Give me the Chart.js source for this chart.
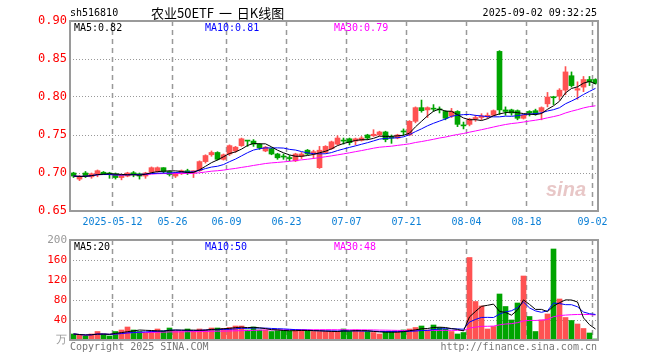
<!DOCTYPE html>
<html>
<head>
<meta charset="utf-8">
<script src="https://cdn.jsdelivr.net/npm/chart.js@4.4.1/dist/chart.umd.min.js"></script>
<style>
body { margin: 0; background: #fff; }
#wrap { position: relative; width: 660px; height: 360px; font-family: "DejaVu Sans Mono", monospace; font-size: 10px; }
canvas { position: absolute; left: 0; top: 0; }
.t { position: absolute; white-space: nowrap; line-height: 12px; }
</style>
</head>
<body>
<div id="wrap">
  <canvas id="kline" width="660" height="360"></canvas>
  <canvas id="volume" width="660" height="360"></canvas>
  <div class="t" style="left:70px;top:7px;color:#000">sh516810</div>
  <div class="t" style="left:151px;top:5px;color:#000;font-family:'Noto Sans CJK SC';font-size:13px;line-height:16px;word-spacing:2px">农业50ETF 一 日K线图</div>
  <div class="t" style="right:63px;top:7px;color:#000">2025-09-02 09:32:25</div>
  <div class="t" style="left:74px;top:22px;color:#000">MA5:0.82</div>
  <div class="t" style="left:205px;top:22px;color:#00f">MA10:0.81</div>
  <div class="t" style="left:334px;top:22px;color:#f0f">MA30:0.79</div>
  <div class="t" style="left:74px;top:241px;color:#000">MA5:20</div>
  <div class="t" style="left:205px;top:241px;color:#00f">MA10:50</div>
  <div class="t" style="left:334px;top:241px;color:#f0f">MA30:48</div>
  <div class="t" style="left:70px;top:341px;color:#777">Copyright 2025 SINA.COM</div>
  <div class="t" style="right:63px;top:341px;color:#777">http://finance.sina.com.cn</div>
  <div class="t" style="left:546px;top:178px;color:rgba(205,130,130,0.45);font-family:'Liberation Sans';font-style:italic;font-weight:bold;font-size:20px;line-height:22px">sina</div>
</div>
<script>
// trading days shown, 2025-04-28 .. 2025-09-02
var dates = ['04-28','04-29','04-30','05-06','05-07','05-08','05-09',
  '05-12','05-13','05-14','05-15','05-16','05-19','05-20','05-21','05-22','05-23',
  '05-26','05-27','05-28','05-29','05-30','06-03','06-04','06-05','06-06',
  '06-09','06-10','06-11','06-12','06-13','06-16','06-17','06-18','06-19','06-20',
  '06-23','06-24','06-25','06-26','06-27','06-30','07-01','07-02','07-03','07-04',
  '07-07','07-08','07-09','07-10','07-11','07-14','07-15','07-16','07-17','07-18',
  '07-21','07-22','07-23','07-24','07-25','07-28','07-29','07-30','07-31','08-01',
  '08-04','08-05','08-06','08-07','08-08','08-11','08-12','08-13','08-14','08-15',
  '08-18','08-19','08-20','08-21','08-22','08-25','08-26','08-27','08-28','08-29',
  '09-01','09-02'];

var open = [0.700,0.692,0.700,0.695,0.699,0.701,0.700,0.699,0.694,0.696,
  0.700,0.699,0.696,0.701,0.702,0.707,0.702,0.696,0.699,0.703,
  0.700,0.703,0.715,0.724,0.727,0.718,0.725,0.729,0.736,0.743,
  0.742,0.738,0.729,0.732,0.725,0.722,0.720,0.716,0.722,0.730,
  0.725,0.707,0.727,0.732,0.738,0.743,0.745,0.742,0.743,0.750,
  0.749,0.750,0.754,0.748,0.746,0.755,0.750,0.768,0.786,0.783,
  0.785,0.784,0.781,0.775,0.781,0.763,0.764,0.771,0.773,0.774,
  0.776,0.860,0.783,0.783,0.782,0.772,0.781,0.782,0.781,0.791,
  0.800,0.801,0.809,0.828,0.809,0.813,0.823,0.823];
var high = [0.701,0.697,0.702,0.700,0.704,0.702,0.701,0.700,0.698,0.701,
  0.702,0.700,0.701,0.708,0.708,0.707,0.703,0.701,0.704,0.705,
  0.703,0.716,0.724,0.729,0.728,0.725,0.737,0.735,0.746,0.743,
  0.744,0.739,0.735,0.733,0.726,0.725,0.723,0.726,0.727,0.731,
  0.730,0.735,0.736,0.742,0.749,0.746,0.746,0.746,0.748,0.751,
  0.757,0.755,0.755,0.750,0.751,0.758,0.769,0.787,0.796,0.787,
  0.790,0.787,0.782,0.785,0.782,0.767,0.772,0.776,0.778,0.779,
  0.783,0.861,0.787,0.784,0.783,0.777,0.782,0.784,0.787,0.806,
  0.801,0.811,0.840,0.833,0.820,0.827,0.827,0.824];
var low = [0.694,0.690,0.694,0.693,0.695,0.698,0.693,0.692,0.691,0.695,
  0.695,0.692,0.693,0.700,0.701,0.700,0.696,0.694,0.698,0.698,
  0.694,0.702,0.713,0.722,0.717,0.717,0.723,0.727,0.735,0.735,
  0.735,0.731,0.728,0.724,0.718,0.718,0.716,0.715,0.719,0.724,
  0.719,0.706,0.726,0.731,0.737,0.738,0.737,0.737,0.742,0.744,
  0.748,0.749,0.741,0.739,0.745,0.750,0.749,0.766,0.780,0.773,
  0.781,0.779,0.770,0.773,0.761,0.758,0.762,0.768,0.770,0.772,
  0.775,0.777,0.776,0.776,0.770,0.771,0.775,0.776,0.770,0.787,
  0.790,0.796,0.803,0.813,0.797,0.807,0.815,0.817];
var close = [0.696,0.695,0.696,0.699,0.703,0.699,0.698,0.694,0.697,0.700,
  0.699,0.696,0.700,0.707,0.707,0.702,0.698,0.700,0.703,0.700,
  0.703,0.715,0.723,0.727,0.718,0.724,0.736,0.734,0.745,0.742,
  0.738,0.733,0.734,0.725,0.720,0.721,0.719,0.725,0.725,0.725,
  0.728,0.730,0.735,0.741,0.746,0.742,0.740,0.745,0.746,0.746,
  0.751,0.754,0.744,0.746,0.750,0.754,0.768,0.786,0.782,0.786,
  0.784,0.783,0.772,0.781,0.764,0.762,0.771,0.773,0.775,0.776,
  0.782,0.783,0.781,0.779,0.772,0.776,0.779,0.778,0.786,0.800,
  0.799,0.809,0.833,0.815,0.811,0.823,0.820,0.818];
var up = [0,1,0,1,1,0,0,0,1,1, 0,0,1,1,1,0,0,1,1,0,
  1,1,1,1,0,1,1,1,1,0, 0,0,1,0,0,0,0,1,1,0,
  1,1,1,1,1,0,0,1,1,0, 1,1,0,0,1,0,1,1,0,1,
  0,0,0,1,0,0,1,1,1,1, 1,0,0,0,0,1,0,0,1,1,
  0,1,1,0,1,1,0,0];
// volume, unit: 10k lots
var vol = [12,10,8,12,17,12,8,17,20,26,
  20,17,14,18,22,18,24,18,17,22,
  18,22,20,24,24,23,25,28,28,20,
  26,20,20,17,19,19,18,20,20,18,
  17,17,17,17,17,22,17,20,17,17,
  15,12,17,17,17,20,22,25,28,20,
  30,25,22,17,12,15,165,77,68,22,
  27,92,67,40,74,128,47,17,40,52,
  182,82,45,39,32,23,14,2];

var tickLabels = ['2025-05-12','05-26','06-09','06-23','07-07','07-21','08-04','08-18','09-02'];
var priceTicks = [0.65, 0.70, 0.75, 0.80, 0.85, 0.90];
var volTicks = [0, 40, 80, 120, 160, 200];

var RED = '#ff5252', GREEN = '#00a400';
var MONO = 'DejaVu Sans Mono';
var tickIdx = tickLabels.map(function (s) { return dates.indexOf(s.slice(-5)); });
var colors = up.map(function (u) { return u ? RED : GREEN; });

function ma(arr, n) {
  return arr.map(function (v, i) {
    var s = 0, k = 0;
    for (var j = Math.max(0, i - n + 1); j <= i; j++) { s += arr[j]; k++; }
    return {x: i, y: s / k};
  });
}

function line(arr, n, color) {
  return {type: 'line', data: ma(arr, n), borderColor: color, borderWidth: 1,
    pointRadius: 0, tension: 0, order: 0};
}

// dotted price/volume levels, dashed date lines, grey frame
var frame = {
  id: 'frame',
  beforeDatasetsDraw: function (chart) {
    var a = chart.chartArea, c = chart.ctx, xs = chart.scales.x, ys = chart.scales.y;
    c.save();
    c.lineWidth = 1;
    c.strokeStyle = '#999';
    c.setLineDash([1, 2]);
    ys.ticks.forEach(function (t) {
      var y = Math.floor(ys.getPixelForValue(t.value)) + 0.5;
      c.beginPath(); c.moveTo(a.left, y); c.lineTo(a.right, y); c.stroke();
    });
    c.setLineDash([5, 4]);
    c.lineWidth = 1.5;
    tickIdx.forEach(function (i) {
      var x = xs.getPixelForValue(i - 0.5);
      c.beginPath(); c.moveTo(x, a.top); c.lineTo(x, a.bottom); c.stroke();
    });
    c.restore();
  },
  afterDatasetsDraw: function (chart) {
    var a = chart.chartArea, c = chart.ctx;
    c.save();
    c.strokeStyle = '#9a9a9a';
    c.lineWidth = 2;
    c.strokeRect(a.left, a.top, a.right - a.left, a.bottom - a.top);
    c.restore();
  }
};

function xAxis(labels) {
  return {
    type: 'linear', offset: false, min: -0.5 - 1 / 12, max: 87.5 - 1 / 12,
    afterBuildTicks: function (s) { s.ticks = tickIdx.map(function (i) { return {value: i - 0.5}; }); },
    afterFit: function (s) { s.height = labels ? 20 : 0; },
    grid: {display: false, drawTicks: false},
    border: {display: false},
    ticks: {display: labels, color: '#0a7fd6', font: {family: MONO, size: 10}, padding: 5,
      maxRotation: 0, autoSkip: false,
      callback: function (v, i) { return tickLabels[i]; }}
  };
}

new Chart(document.getElementById('kline'), {
  type: 'bar',
  data: {
    datasets: [
      {data: low.map(function (l, i) { return {x: i, y: [l, high[i]]}; }),
        backgroundColor: colors, barThickness: 1, grouped: false, order: 2},
      {data: open.map(function (o, i) { return {x: i, y: [o, close[i]]}; }),
        backgroundColor: colors, barThickness: 5, minBarLength: 1, grouped: false, order: 1},
      line(close, 5, '#000'),
      line(close, 10, '#00f'),
      line(close, 30, '#f0f')
    ]
  },
  options: {
    responsive: false, animation: false, devicePixelRatio: 1, events: [],
    layout: {padding: {top: 21, left: 0, right: 62, bottom: 129}},
    plugins: {legend: {display: false}, tooltip: {enabled: false}},
    scales: {
      x: xAxis(true),
      y: {
        min: 0.65, max: 0.90,
        afterBuildTicks: function (s) { s.ticks = priceTicks.map(function (v) { return {value: v}; }); },
        afterFit: function (s) { s.width = 70; },
        grid: {display: false, drawTicks: false},
        border: {display: false},
        ticks: {color: '#f00', font: {family: MONO, size: 12}, padding: 3,
          callback: function (v) { return v.toFixed(2); }}
      }
    }
  },
  plugins: [frame]
});

new Chart(document.getElementById('volume'), {
  type: 'bar',
  data: {
    datasets: [
      {data: vol.map(function (v, i) { return {x: i, y: v}; }),
        backgroundColor: colors, barThickness: 5, grouped: false, order: 1},
      line(vol, 5, '#000'),
      line(vol, 10, '#00f'),
      line(vol, 30, '#f0f')
    ]
  },
  options: {
    responsive: false, animation: false, devicePixelRatio: 1, events: [],
    layout: {padding: {top: 240, left: 0, right: 62, bottom: 20}},
    plugins: {legend: {display: false}, tooltip: {enabled: false}},
    scales: {
      x: xAxis(false),
      y: {
        min: 0, max: 200,
        afterBuildTicks: function (s) { s.ticks = volTicks.map(function (v) { return {value: v}; }); },
        afterFit: function (s) { s.width = 70; },
        grid: {display: false, drawTicks: false},
        border: {display: false},
        ticks: {color: function (c) { return c.tick.value === 0 || c.tick.value === 200 ? '#999' : '#f00'; },
          font: {family: MONO, size: 11}, padding: 3,
          callback: function (v) { return v === 0 ? '万' : String(v); }}
      }
    }
  },
  plugins: [frame]
});
</script>
</body>
</html>
